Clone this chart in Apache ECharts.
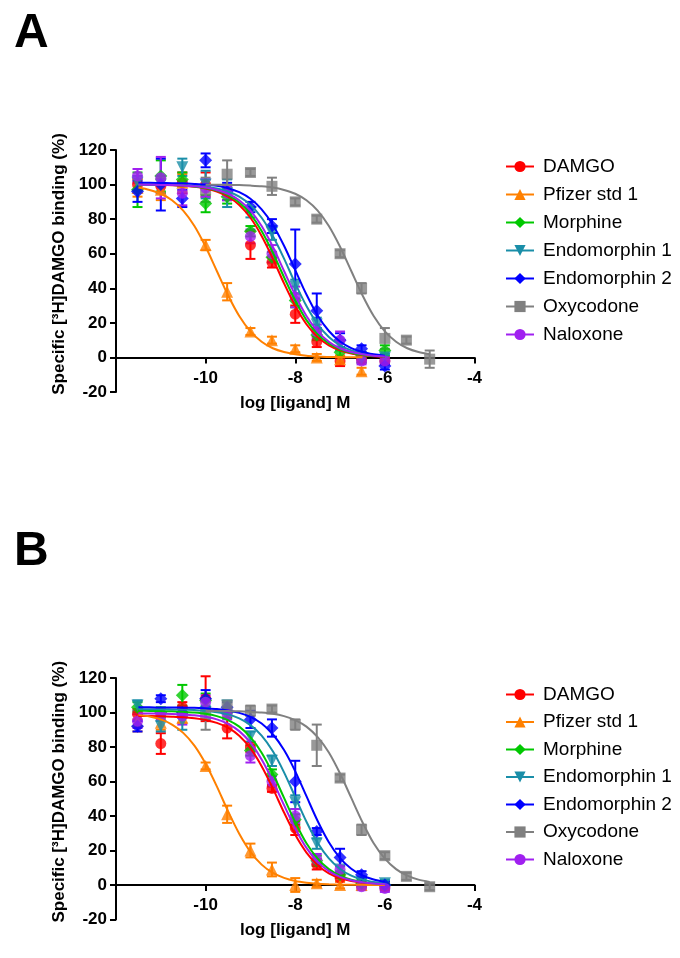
<!DOCTYPE html>
<html><head><meta charset="utf-8">
<script src="https://cdn.jsdelivr.net/npm/echarts@6/dist/echarts.min.js"></script>
<style>html,body{margin:0;padding:0;background:#fff;}#c{width:680px;height:958px;}</style>
</head><body><div id="c"></div>
<script>
// ---- series identity ----
const names = ['DAMGO','Pfizer std 1','Morphine','Endomorphin 1','Endomorphin 2','Oxycodone','Naloxone'];
const colors = ['#FF0000','#FF8000','#00C800','#1A8EA8','#0000FF','#808080','#A020F0'];
const symbols = ['circle','triangle','diamond','triangle','diamond','rect','circle'];
const symbolRot = [0,0,0,180,0,0,0];
const symbolSizes = [11,12,13,12,13,11,11];

// ---- x values (log M) ----
const doses = [-11.52,-11,-10.52,-10,-9.52,-9,-8.52,-8,-7.52,-7,-6.52,-6,-5.52,-5];
const curveX = [-11.5,-11.25,-11,-10.75,-10.5,-10.25,-10,-9.75,-9.5,-9.25,-9,-8.75,-8.5,-8.25,-8,-7.75,-7.5,-7.25,-7,-6.75,-6.5,-6.25,-6,-5.75,-5.5,-5.25,-5];
const xTicks = [-12,-10,-8,-6,-4];
const yTicks = [-20,0,20,40,60,80,100,120];

// ---- Panel A: means ----
const meanA_DAMGO    = [100,99,101,100,95,65,55,25,9,-2,-1,-2,null,null];
const meanA_Pfizer   = [98,97,101,65,38,15,10,5,0,-1,-8,null,null,null];
const meanA_Morphine = [97,105,103,89,93,73,58,33,13,3,1,4,null,null];
const meanA_Endo1    = [101,100,110,100,95,84,72,41,19,7,-1,0,null,null];
const meanA_Endo2    = [96,100,92,114,96,87,76,54,27,10,5,-5,null,null];
const meanA_Oxy      = [null,null,null,97,106,107,99,90,80,60,40,11,10,-1];
const meanA_Nal      = [105,104,95,98,95,70,60,35,15,10,-2,-2,null,null];
// ---- Panel A: SEM ----
const semA_DAMGO    = [3,4,6,7,4,8,3,5,3,3,2,2,null,null];
const semA_Pfizer   = [5,6,5,3,5,2,2,2,2,2,2,null,null,null];
const semA_Morphine = [10,9,4,5,4,3,3,4,3,3,2,3,null,null];
const semA_Endo1    = [4,5,5,8,8,3,4,4,4,3,2,2,null,null];
const semA_Endo2    = [6,15,5,4,5,3,4,20,10,4,2,2,null,null];
const semA_Oxy      = [null,null,null,7,8,2,5,2,2,2,3,6,2,5];
const semA_Nal      = [4,12,7,5,4,4,5,6,4,5,2,2,null,null];
// ---- Panel A: fitted curves (values at curveX) ----
const curveA_DAMGO    = [100,99.9,99.8,99.6,99.3,98.7,97.7,96.0,93.0,88.2,80.8,70.3,57.2,42.8,29.7,19.2,11.8,7.0,4.1,2.3,1.3,0.7,0.4,null,null,null,null];
const curveA_Pfizer   = [98.3,96.9,94.7,90.9,84.9,76.0,64.0,50,36.0,24.0,15.1,9.1,5.3,3.1,1.8,1.0,0.6,0.3,0.2,0.1,0.1,null,null,null,null,null,null];
const curveA_Morphine = [100,99.9,99.8,99.7,99.4,98.9,98.0,96.5,93.9,89.6,82.9,73.2,60.6,46.4,32.9,21.6,13.5,8.1,4.7,2.7,1.6,0.9,0.5,null,null,null,null];
const curveA_Endo1    = [100,99.9,99.9,99.8,99.6,99.3,98.7,97.7,96.0,93.0,88.2,80.8,70.3,57.2,42.8,29.7,19.2,11.8,7.0,4.1,2.3,1.3,0.7,null,null,null,null];
const curveA_Endo2    = [101,101,100.9,100.8,100.7,100.4,100.0,99.3,97.9,95.6,91.8,85.7,76.8,64.6,50.5,36.4,24.3,15.3,9.2,5.4,3.1,1.8,1.0,null,null,null,null];
const curveA_Oxy      = [null,null,null,null,null,null,99.9,99.9,99.8,99.7,99.4,99.0,98.3,96.9,94.7,90.9,84.9,76.0,64.0,50,36.0,24.0,15.1,9.1,5.3,3.1,1.8];
const curveA_Nal      = [100,99.9,99.8,99.7,99.4,99.0,98.3,96.9,94.7,90.9,84.9,76.0,64.0,50,36.0,24.0,15.1,9.1,5.3,3.1,1.8,1.0,0.6,null,null,null,null];

// ---- Panel B: means ----
const meanB_DAMGO    = [99,82,103,108,91,80,56,33,12,4,0,-1,null,null];
const meanB_Pfizer   = [95,94,97,69,41,20,9,0,1,0,0,null,null,null];
const meanB_Morphine = [103,100,110,107,100,78,64,38,14,6,1,0,null,null];
const meanB_Endo1    = [104,92,95,100,104,86,72,48,24,9,2,1,null,null];
const meanB_Endo2    = [92,108,100,108,103,96,91,60,31,16,6,0,null,null];
const meanB_Oxy      = [null,null,null,99,104,101,102,93,81,62,32,17,5,-1];
const meanB_Nal      = [95,99,98,106,99,75,60,40,15,9,-1,-2,null,null];
// ---- Panel B: SEM ----
const semB_DAMGO    = [3,6,3,13,6,3,2,4,3,2,2,2,null,null];
const semB_Pfizer   = [6,4,3,2,5,4,4,4,2,2,1,null,null,null];
const semB_Morphine = [3,3,6,4,3,3,3,3,3,2,2,2,null,null];
const semB_Endo1    = [3,3,5,4,2,3,3,4,3,2,2,2,null,null];
const semB_Endo2    = [3,2,3,5,3,5,5,12,2,5,2,2,null,null];
const semB_Oxy      = [null,null,null,9,3,3,2,3,12,2,3,2,2,2];
const semB_Nal      = [4,3,5,4,3,4,3,4,3,2,2,2,null,null];
// ---- Panel B: fitted curves ----
const curveB_DAMGO    = [97.9,97.9,97.8,97.6,97.3,96.7,95.7,94.0,91.2,86.5,79.2,68.9,56.0,42.0,29.1,18.8,11.5,6.8,4.0,2.3,1.3,0.7,0.4,null,null,null,null];
const curveB_Pfizer   = [98.7,97.7,96.0,93.0,88.2,80.8,70.3,57.2,42.8,29.7,19.2,11.8,7.0,4.1,2.3,1.3,0.7,0.4,0.2,0.1,0.1,0.0,0.0,null,null,null,null];
const curveB_Morphine = [101,100.9,100.8,100.7,100.4,100.0,99.3,97.9,95.6,91.8,85.7,76.7,64.6,50.5,36.4,24.2,15.3,9.2,5.4,3.1,1.8,1.0,0.6,null,null,null,null];
const curveB_Endo1    = [102.0,101.9,101.9,101.8,101.7,101.4,101.0,100.2,98.9,96.6,92.7,86.6,77.5,65.3,51.0,36.7,24.5,15.4,9.3,5.4,3.1,1.8,1.0,null,null,null,null];
const curveB_Endo2    = [103,103,102.9,102.9,102.8,102.7,102.4,102.0,101.2,99.8,97.5,93.6,87.4,78.2,65.9,51.5,37.1,24.8,15.6,9.4,5.5,3.2,1.8,null,null,null,null];
const curveB_Oxy      = [null,null,null,null,null,null,100.9,100.9,100.8,100.7,100.4,100.0,99.3,97.9,95.6,91.8,85.7,76.8,64.6,50.5,36.4,24.2,15.3,9.2,5.4,3.1,1.8];
const curveB_Nal      = [99.5,99.4,99.3,99.2,98.9,98.4,97.5,96.0,93.4,89.2,82.5,72.8,60.3,46.3,32.8,21.5,13.4,8.0,4.7,2.7,1.6,0.9,0.5,null,null,null,null];

const panels = [
  { means:[meanA_DAMGO,meanA_Pfizer,meanA_Morphine,meanA_Endo1,meanA_Endo2,meanA_Oxy,meanA_Nal],
    sems:[semA_DAMGO,semA_Pfizer,semA_Morphine,semA_Endo1,semA_Endo2,semA_Oxy,semA_Nal],
    curves:[curveA_DAMGO,curveA_Pfizer,curveA_Morphine,curveA_Endo1,curveA_Endo2,curveA_Oxy,curveA_Nal] },
  { means:[meanB_DAMGO,meanB_Pfizer,meanB_Morphine,meanB_Endo1,meanB_Endo2,meanB_Oxy,meanB_Nal],
    sems:[semB_DAMGO,semB_Pfizer,semB_Morphine,semB_Endo1,semB_Endo2,semB_Oxy,semB_Nal],
    curves:[curveB_DAMGO,curveB_Pfizer,curveB_Morphine,curveB_Endo1,curveB_Endo2,curveB_Oxy,curveB_Nal] }
];

const FONT = 'Liberation Sans, Arial, Helvetica, sans-serif';
const gridTops = [150, 678];
// distance (px) between the zero line and the grid bottom (20 of 140 units)
const zeroOffset = [242*20/140, 241.5*20/140];

function xAxisFor(i){
  return { gridIndex:i, type:'value', min:xTicks[0], max:xTicks[xTicks.length-1], interval:2,
    axisLine:{ show:true, onZero:true, lineStyle:{color:'#000', width:2} },
    axisTick:{ show:true, length:6, lineStyle:{color:'#000', width:2} },
    axisLabel:{ showMinLabel:false, color:'#000', fontSize:17, fontWeight:'bold', fontFamily:FONT, margin:12 - zeroOffset[i] },
    splitLine:{show:false},
    name:'log [ligand] M', nameLocation:'middle', nameGap:37 - zeroOffset[i],
    nameTextStyle:{ color:'#000', fontSize:17, fontWeight:'bold', fontFamily:FONT } };
}
function yAxisFor(i){
  return { gridIndex:i, type:'value', min:yTicks[0], max:yTicks[yTicks.length-1], interval:20,
    axisLine:{ show:true, lineStyle:{color:'#000', width:2} },
    axisTick:{ show:true, length:6, lineStyle:{color:'#000', width:2} },
    axisLabel:{ color:'#000', fontSize:17, fontWeight:'bold', fontFamily:FONT, margin:9 },
    splitLine:{show:false},
    name:'Specific [³H]DAMGO binding (%)', nameLocation:'middle', nameGap:47,
    nameTextStyle:{ color:'#000', fontSize:17, fontWeight:'bold', fontFamily:FONT, padding:[0,0,0,14] } };
}

const series = [];
panels.forEach((p, pi) => {
  names.forEach((nm, si) => {
    const col = colors[si];
    const curveData = [];
    curveX.forEach((x,k)=>{ if (p.curves[si][k] !== null) curveData.push([x, p.curves[si][k]]); });
    const ptData = [], errData = [];
    doses.forEach((x,k)=>{
      const m = p.means[si][k];
      if (m !== null) { ptData.push([x, m]); errData.push([x, m, p.sems[si][k] || 0]); }
    });
    series.push({ name:nm, type:'line', xAxisIndex:pi, yAxisIndex:pi, data:curveData,
      smooth:0.3, showSymbol:false, symbol:symbols[si], symbolRotate:symbolRot[si], symbolSize:symbolSizes[si],
      lineStyle:{color:col, width:2}, itemStyle:{color:col}, silent:true, animation:false });
    series.push({ name:nm, type:'custom', xAxisIndex:pi, yAxisIndex:pi, data:errData, silent:true, animation:false,
      renderItem:function(params, api){
        const x = api.value(0), m = api.value(1), s = api.value(2);
        const top = api.coord([x, m + s]), bot = api.coord([x, m - s]);
        const hw = 5;
        const st = { stroke:col, lineWidth:2 };
        return { type:'group', children:[
          { type:'line', shape:{x1:top[0], y1:top[1], x2:bot[0], y2:bot[1]}, style:st },
          { type:'line', shape:{x1:top[0]-hw, y1:top[1], x2:top[0]+hw, y2:top[1]}, style:st },
          { type:'line', shape:{x1:bot[0]-hw, y1:bot[1], x2:bot[0]+hw, y2:bot[1]}, style:st }
        ]};
      } });
    series.push({ name:nm, type:'scatter', xAxisIndex:pi, yAxisIndex:pi, data:ptData,
      symbol:symbols[si], symbolRotate:symbolRot[si], symbolSize:symbolSizes[si],
      itemStyle:{color:col}, silent:true, animation:false });
  });
});

const legendBase = { orient:'vertical', left:500, itemWidth:28, itemHeight:14, selectedMode:false,
  textStyle:{ color:'#000', fontSize:19, fontFamily:FONT, padding:[0,0,0,4] }, data:names };

const option = {
  backgroundColor:'#fff',
  animation:false,
  title:[
    { text:'A', left:9, top:5, textStyle:{ fontSize:48, fontWeight:'bold', color:'#000', fontFamily:FONT } },
    { text:'B', left:9, top:523, textStyle:{ fontSize:48, fontWeight:'bold', color:'#000', fontFamily:FONT } }
  ],
  grid:[
    { left:116, top:gridTops[0], width:358.5, height:242 },
    { left:116, top:gridTops[1], width:358.5, height:241.5 }
  ],
  xAxis:[xAxisFor(0), xAxisFor(1)],
  yAxis:[yAxisFor(0), yAxisFor(1)],
  legend:[
    Object.assign({}, legendBase, { top:152, itemGap:9 }),
    Object.assign({}, legendBase, { top:680, itemGap:8.5 })
  ],
  series:series
};
echarts.init(document.getElementById('c'), null, {renderer:'canvas'}).setOption(option);
</script></body></html>
